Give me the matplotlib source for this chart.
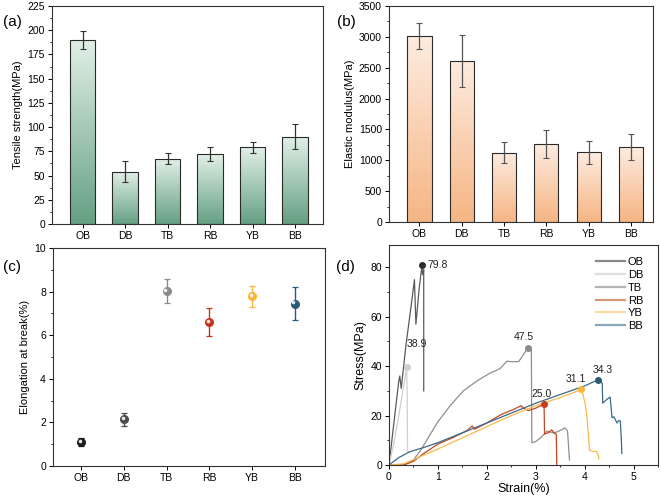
import numpy as np
import matplotlib
matplotlib.use("Agg")
import matplotlib.pyplot as plt
from matplotlib.colors import LinearSegmentedColormap
from matplotlib.ticker import MultipleLocator

plt.rcParams['font.family'] = ['Liberation Sans', 'DejaVu Sans']
plt.rcParams['font.size'] = 7.5

# ---- data ----
SAMPLES = ["OB", "DB", "TB", "RB", "YB", "BB"]

TENSILE = [190, 54, 67.5, 72, 79, 90]
TENSILE_ERR = [9.5, 11, 5.5, 7, 6, 13]

MODULUS = [3010, 2610, 1125, 1260, 1130, 1215]
MODULUS_ERR = [210, 415, 170, 230, 190, 205]

ELONG = [1.1, 2.15, 8.03, 6.6, 7.78, 7.45]
ELONG_ERR = [0.2, 0.3, 0.54, 0.65, 0.49, 0.77]
ELONG_COLORS = ["#1e1e1e", "#4a4a4a", "#8a8a8a", "#c0361c", "#f8b63a", "#2c5b78"]

# stress-strain curves (strain %, stress MPa)
OB_X = [0, 0.1, 0.2, 0.22, 0.25, 0.35, 0.45, 0.52, 0.55, 0.62, 0.67, 0.69, 0.71, 0.71]
OB_Y = [0, 17, 34, 36, 31, 49, 64, 75, 57, 72, 80, 77, 79, 30]
DB_X = [0, 0.1, 0.2, 0.3, 0.36, 0.37, 0.38, 0.42]
DB_Y = [0, 9, 20, 32, 39.5, 30, 5.5, 5]
TB_X = [0, 0.3, 0.5, 0.65, 0.8, 1.0, 1.25, 1.52, 1.8, 2.05, 2.27, 2.41, 2.5, 2.65, 2.71,
        2.82, 2.87, 2.91, 2.92, 3.0, 3.1, 3.23, 3.36, 3.45, 3.6, 3.65, 3.69]
TB_Y = [0, 0, 2, 6, 11, 17.5, 24, 30, 34, 37, 39, 42, 41.8, 41.8, 43.5,
        46.9, 47.8, 47.3, 9, 9.5, 11, 13.7, 13, 13.5, 15, 13.7, 2]
RB_X = [0, 0.3, 0.5, 0.7, 1.0, 1.3, 1.6, 1.7, 1.75, 2.0, 2.3, 2.55, 2.7, 2.75, 2.85,
        3.0, 3.1, 3.17, 3.18, 3.25, 3.33, 3.37, 3.42, 3.43]
RB_Y = [0, 0, 1.5, 4.5, 8.5, 11, 14, 15.8, 14.5, 17, 20.5, 22.5, 24, 23, 22,
        23, 24, 24.5, 12.5, 13, 14.2, 13, 12.5, 0]
YB_X = [0, 0.3, 0.6, 1.0, 1.5, 2.0, 2.5, 3.0, 3.5, 3.93, 3.96, 4.01, 4.05, 4.08, 4.1,
        4.18, 4.24, 4.28, 4.29]
YB_Y = [0, 0.5, 3, 6.5, 11, 15.5, 20, 24, 27.3, 30.5, 29, 24.8, 19, 11, 6,
        5.4, 5.6, 4, 2.5]
BB_X = [0, 0.1, 0.2, 0.43, 0.7, 0.98, 1.5, 2.0, 2.5, 3.0, 3.5, 4.0, 4.2, 4.3, 4.36,
        4.37, 4.45, 4.52, 4.56, 4.6, 4.66, 4.7, 4.73, 4.75, 4.76]
BB_Y = [0, 1.5, 3, 5.4, 7, 8.9, 13, 17, 21, 25, 28.5, 32, 33.8, 34.3, 33,
        25, 26.5, 27.5, 19.2, 19.5, 17, 18, 17.8, 10, 4.7]
CURVE_COLORS = ["#5a5a5a", "#cfcfcf", "#8f8f8f", "#c2461f", "#f9b94a", "#3a6a88"]
LEGEND_COLORS = ["#8a8a8a", "#dedede", "#b4b4b4", "#d59878", "#fcd9a2", "#8aa6ba"]

PEAK_X = [0.67, 0.36, 2.85, 3.17, 3.93, 4.28]
PEAK_Y = [81, 39.5, 47.5, 24.5, 30.6, 34.3]
PEAK_LBL = ["79.8", "38.9", "47.5", "25.0", "31.1", "34.3"]
PEAK_COLORS = ["#2e2e2e", "#cfcfcf", "#8a8a8a", "#c83a1a", "#fbb736", "#2b5a76"]


def gradient_bars(ax, bars, c_top, c_bot):
    cmap = LinearSegmentedColormap.from_list("g", [c_bot, c_top])
    grad = np.linspace(0, 1, 256).reshape(-1, 1)
    for b in bars:
        x, y = b.get_x(), b.get_y()
        w, h = b.get_width(), b.get_height()
        im = ax.imshow(grad, extent=[x, x + w, y, y + h], origin="lower",
                       cmap=cmap, aspect="auto", zorder=1.5)
        im.set_clip_path(b)
        b.set_facecolor("none")
        b.set_zorder(2)


def style(ax):
    for s in ax.spines.values():
        s.set_linewidth(0.8)
        s.set_color("#333333")
    ax.tick_params(which="major", direction="out", length=3, width=0.7, pad=2)
    ax.tick_params(which="minor", direction="out", length=1.5, width=0.6)


fig = plt.figure(figsize=(6.61, 4.97), dpi=100)
ax_a = fig.add_axes([0.0787, 0.5493, 0.41, 0.4387])
ax_b = fig.add_axes([0.5885, 0.5533, 0.3995, 0.4347])
ax_c = fig.add_axes([0.080, 0.0624, 0.4117, 0.4386])
ax_d = fig.add_axes([0.5885, 0.0644, 0.4070, 0.4426])

xpos = np.arange(len(SAMPLES))

# (a)
bars = ax_a.bar(xpos, TENSILE, width=0.6, edgecolor="#2a2a2a", linewidth=0.8)
gradient_bars(ax_a, bars, "#e2f0e7", "#65a083")
ax_a.errorbar(xpos, TENSILE, yerr=TENSILE_ERR, fmt="none", ecolor="#333333",
              elinewidth=0.9, capsize=2, capthick=0.8, zorder=3)
ax_a.set_xlim(-0.72, 5.66)
ax_a.set_ylim(0, 225)
ax_a.yaxis.set_major_locator(MultipleLocator(25))
ax_a.yaxis.set_minor_locator(MultipleLocator(12.5))
ax_a.set_xticks(xpos)
ax_a.set_xticklabels(SAMPLES)
ax_a.set_ylabel("Tensile strength(MPa)", fontsize=8, labelpad=3)
style(ax_a)

# (b)
bars = ax_b.bar(xpos, MODULUS, width=0.57, edgecolor="#2a2a2a", linewidth=0.8)
gradient_bars(ax_b, bars, "#fdece0", "#f6b584")
ax_b.errorbar(xpos, MODULUS, yerr=MODULUS_ERR, fmt="none", ecolor="#555555",
              elinewidth=0.9, capsize=2, capthick=0.8, zorder=3)
ax_b.set_xlim(-0.72, 5.52)
ax_b.set_ylim(0, 3500)
ax_b.yaxis.set_major_locator(MultipleLocator(500))
ax_b.yaxis.set_minor_locator(MultipleLocator(250))
ax_b.set_xticks(xpos)
ax_b.set_xticklabels(SAMPLES)
ax_b.set_ylabel("Elastic modulus(MPa)", fontsize=8, labelpad=3)
style(ax_b)

# (c)
for i in range(len(SAMPLES)):
    ax_c.errorbar(xpos[i], ELONG[i], yerr=ELONG_ERR[i], fmt="o", color=ELONG_COLORS[i],
                  ms=5.5, elinewidth=1.0, capsize=2.5, capthick=0.9, zorder=3)
    ax_c.plot(xpos[i] - 0.03, ELONG[i] + 0.06, "o", color="white", ms=1.6,
              alpha=0.8, zorder=4)
ax_c.set_xlim(-0.66, 5.71)
ax_c.set_ylim(0, 10)
ax_c.yaxis.set_major_locator(MultipleLocator(2))
ax_c.yaxis.set_minor_locator(MultipleLocator(1))
ax_c.set_xticks(xpos)
ax_c.set_xticklabels(SAMPLES)
ax_c.set_ylabel("Elongation at break(%)", fontsize=8, labelpad=3)
style(ax_c)

# (d)
curves = [(OB_X, OB_Y), (DB_X, DB_Y), (TB_X, TB_Y), (RB_X, RB_Y), (YB_X, YB_Y), (BB_X, BB_Y)]
for i, (cx, cy) in enumerate(curves):
    ax_d.plot(cx, cy, color=CURVE_COLORS[i], lw=0.9, zorder=2)
    ax_d.plot([], [], color=LEGEND_COLORS[i], lw=1.6, label=SAMPLES[i])
for i in range(len(SAMPLES)):
    ax_d.plot(PEAK_X[i], PEAK_Y[i], "o", color=PEAK_COLORS[i], ms=4, zorder=4)
offsets = [(4, 0), (0, 13), (-3, 4), (-2, 4), (-4, 4), (3, 4)]
has = ["left", "left", "center", "center", "center", "center"]
for i in range(len(SAMPLES)):
    ax_d.annotate(PEAK_LBL[i], (PEAK_X[i], PEAK_Y[i]), xytext=offsets[i],
                  textcoords="offset points", ha=has[i], va="bottom" if i else "center",
                  fontsize=7.5, color="#222222")
ax_d.set_xlim(0, 5.5)
ax_d.set_ylim(0, 89)
ax_d.xaxis.set_major_locator(MultipleLocator(1))
ax_d.xaxis.set_minor_locator(MultipleLocator(0.5))
ax_d.yaxis.set_major_locator(MultipleLocator(20))
ax_d.yaxis.set_minor_locator(MultipleLocator(10))
ax_d.set_xlabel("Strain(%)", fontsize=9, labelpad=1)
ax_d.set_ylabel("Stress(MPa)", fontsize=9, labelpad=3)
ax_d.legend(loc="upper right", frameon=False, fontsize=8, handlelength=2.6,
            handletextpad=0.3, labelspacing=0.25, borderaxespad=0.5,
            bbox_to_anchor=(0.985, 0.99))
style(ax_d)

# panel labels
for lbl, (x, y) in zip(["(a)", "(b)", "(c)", "(d)"],
                       [(0.005, 0.955), (0.510, 0.955), (0.005, 0.462), (0.508, 0.462)]):
    fig.text(x, y, lbl, fontsize=11, ha="left", va="center")

fig.savefig("out.png", dpi=100)
